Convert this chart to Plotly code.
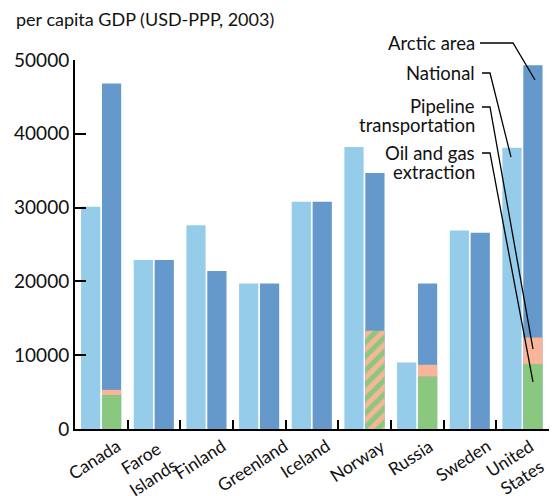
import plotly.graph_objects as go

countries = ["Canada", "Faroe Islands", "Finland", "Greenland", "Iceland",
             "Norway", "Russia", "Sweden", "United States"]
tick_labels = ["Canada", "Faroe<br>Islands", "Finland", "Greenland", "Iceland",
               "Norway", "Russia", "Sweden", "United<br>States"]
national = [30100, 22900, 27600, 19700, 30800, 38200, 9000, 26900, 38100]
arctic = [46800, 22900, 21400, 19700, 30800, 34700, 19700, 26600, 49300]
oil_gas = [4600, None, None, None, None, None, 7100, None, 8800]
pipeline = [700, None, None, None, None, None, 1600, None, 3600]
norway_combined = [None, None, None, None, None, 13300, None, None, None]
y_ticks = [0, 10000, 20000, 30000, 40000, 50000]
y_ticktext = ["0", "10000", "20000", "30000", "40000", "50000"]

C_NAT = "#94CCEA"
C_ARC = "#6699CB"
C_OIL = "#8BC87F"
C_PIPE = "#F9B598"

FONT = "Lato"
W, H = 560, 496
ML, MR, MT, MB = 75, 11, 60, 67

W_BAR = 0.365
OFF_NAT = -0.385
OFF_ARC = 0.012

fig = go.Figure()
fig.add_bar(x=countries, y=national, name="National", marker_color=C_NAT,
            width=W_BAR, offset=OFF_NAT, marker_line_width=0)
fig.add_bar(x=countries, y=arctic, name="Arctic area", marker_color=C_ARC,
            width=W_BAR, offset=OFF_ARC, marker_line_width=0)
fig.add_bar(x=countries, y=oil_gas, name="Oil and gas extraction", marker_color=C_OIL,
            width=W_BAR, offset=OFF_ARC, marker_line_width=0)
fig.add_bar(x=countries, y=pipeline, base=oil_gas, name="Pipeline transportation",
            marker_color=C_PIPE, width=W_BAR, offset=OFF_ARC, marker_line_width=0)
fig.add_bar(x=countries, y=norway_combined, name="Oil, gas and pipeline",
            width=W_BAR, offset=OFF_ARC,
            marker=dict(color=C_OIL, line_width=0,
                        pattern=dict(shape="/", fgcolor=C_PIPE, bgcolor=C_OIL,
                                     size=10, solidity=0.5, fillmode="replace")))

pw = W - ML - MR
ph = H - MT - MB


def px2paper(px, py):
    return (px - ML) / pw, (H - MB - py) / ph


label_lines = [
    ("Arctic area", 43),
    ("National", 73),
    ("Pipeline", 106),
    ("transportation", 125),
    ("Oil and gas", 153),
    ("extraction", 172),
]
annotations = []
for txt, py in label_lines:
    x, y = px2paper(476, py)
    annotations.append(dict(text=txt, x=x, y=y, xref="paper", yref="paper",
                            xanchor="right", yanchor="middle", align="right",
                            showarrow=False, borderpad=0,
                            font=dict(family=FONT, size=18.5, color="#111")))
x, y = px2paper(14, 19)
annotations.append(dict(text="per capita GDP (USD-PPP, 2003)", x=x, y=y,
                        xref="paper", yref="paper", xanchor="left", yanchor="middle",
                        showarrow=False, font=dict(family=FONT, size=18, color="#111")))

# rotated category labels
for cat, lab in zip(countries, tick_labels):
    annotations.append(dict(text=lab, x=cat, y=0, xref="x", yref="y",
                            xanchor="center", yanchor="top", align="center",
                            xshift=-7, yshift=-5, textangle=-33,
                            showarrow=False, borderpad=0,
                            font=dict(family=FONT, size=17.5, color="#111")))

leaders = [
    [(480, 43), (513, 43), (535, 80)],
    [(482, 73), (490, 73), (511, 157)],
    [(482, 107), (490, 107), (533, 349)],
    [(482, 153), (490, 153), (533, 382)],
]
shapes = []
for pts in leaders:
    path = ""
    for i, (px, py) in enumerate(pts):
        xx, yy = px2paper(px, py)
        path += ("M" if i == 0 else " L") + f"{xx:.4f},{yy:.4f}"
    shapes.append(dict(type="path", path=path, xref="paper", yref="paper",
                       line=dict(color="black", width=1.3)))

fig.update_layout(
    width=W, height=H,
    margin=dict(l=ML, r=MR, t=MT, b=MB, pad=0, autoexpand=False),
    barmode="overlay",
    showlegend=False,
    plot_bgcolor="white", paper_bgcolor="white",
    font=dict(family=FONT, size=18, color="#111"),
    annotations=annotations,
    shapes=shapes,
    xaxis=dict(type="category", showgrid=False, automargin=False,
               showticklabels=False,
               showline=True, linecolor="black", linewidth=2,
               ticks="inside", ticklen=9, tickwidth=2, tickcolor="black",
               tickson="boundaries", range=[-0.5, len(countries) - 0.5]),
    yaxis=dict(range=[0, 50000], tickvals=y_ticks, ticktext=y_ticktext,
               showgrid=False, zeroline=False, automargin=False,
               showline=True, linecolor="black", linewidth=2,
               ticks="inside", ticklen=11, tickwidth=2, tickcolor="black",
               tickfont=dict(family=FONT, size=19, color="#111")),
)

fig.write_html("out.html", config={"displayModeBar": False},
               post_script="document.body.style.margin='0px';"
                           "document.body.style.overflow='hidden';")
